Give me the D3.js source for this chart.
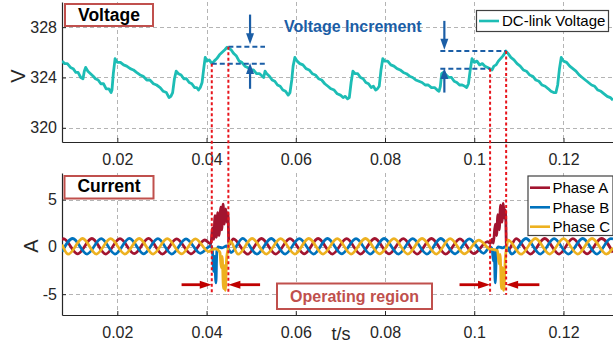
<!DOCTYPE html>
<html>
<head>
<meta charset="utf-8">
<script src="https://cdn.jsdelivr.net/npm/d3@7"></script>
<style>
  html, body { margin: 0; padding: 0; background: #fff; }
  svg { display: block; font-family: Arial, "Liberation Sans", Helvetica, sans-serif; }
</style>
</head>
<body>
<div id="chart"></div>
<script>
// DC-link voltage (t in s, V)
const voltage = [
  [0.0076,325.3],[0.0082,325.1],[0.0088,325.1],[0.0095,324.8],[0.0101,324.7],[0.0107,324.4],[0.0112,324.4],
  [0.0118,324.0],[0.0123,323.9],[0.0126,324.5],[0.0129,324.8],[0.0134,324.5],[0.0140,324.3],[0.0146,324.1],
  [0.0151,323.9],[0.0157,323.8],[0.0163,323.5],[0.0169,323.5],[0.0175,323.1],[0.0181,323.1],[0.0186,322.8],
  [0.0188,323.0],[0.0191,324.3],[0.0195,325.5],[0.0200,325.2],[0.0207,325.2],[0.0214,325.0],[0.0221,324.9],
  [0.0229,324.7],[0.0236,324.6],[0.0243,324.4],[0.0251,324.2],[0.0258,324.1],[0.0266,323.8],[0.0273,323.8],
  [0.0281,323.5],[0.0288,323.4],[0.0296,323.2],[0.0303,322.9],[0.0310,322.8],[0.0316,322.4],[0.0320,322.5],
  [0.0324,322.8],[0.0328,323.9],[0.0332,324.5],[0.0337,324.3],[0.0343,324.2],[0.0349,323.9],[0.0355,323.9],
  [0.0361,323.6],[0.0367,323.5],[0.0373,323.2],[0.0378,323.2],[0.0382,323.0],[0.0386,323.2],[0.0390,323.6],
  [0.0394,324.8],[0.0397,325.6],[0.0401,325.3],[0.0406,325.4],[0.0412,325.1],[0.0417,325.3],[0.0423,325.5],
  [0.0429,325.8],[0.0435,326.0],[0.0441,326.2],[0.0446,326.4],[0.0450,326.3],[0.0455,326.2],[0.0461,325.9],
  [0.0467,325.7],[0.0473,325.3],[0.0479,325.2],[0.0486,324.9],[0.0492,324.8],[0.0499,324.6],[0.0505,324.6],
  [0.0512,324.3],[0.0519,324.3],[0.0525,324.1],[0.0528,324.0],[0.0531,324.5],[0.0535,324.3],[0.0541,324.1],
  [0.0547,323.8],[0.0553,323.7],[0.0559,323.4],[0.0565,323.3],[0.0571,323.0],[0.0577,322.9],[0.0583,322.6],
  [0.0587,322.8],[0.0591,323.8],[0.0594,324.9],[0.0598,325.6],[0.0603,325.3],[0.0609,325.1],[0.0616,325.0],
  [0.0623,324.7],[0.0630,324.6],[0.0637,324.3],[0.0644,324.2],[0.0651,323.9],[0.0658,323.8],[0.0665,323.5],
  [0.0672,323.3],[0.0679,323.1],[0.0686,323.0],[0.0693,322.7],[0.0700,322.6],[0.0706,322.4],[0.0711,322.5],
  [0.0716,322.3],[0.0720,322.4],[0.0724,323.6],[0.0728,324.5],[0.0733,324.3],[0.0739,324.3],[0.0745,324.0],
  [0.0751,323.9],[0.0757,323.6],[0.0763,323.5],[0.0769,323.2],[0.0774,323.3],[0.0779,323.0],[0.0783,323.1],
  [0.0787,323.3],[0.0791,324.6],[0.0795,325.5],[0.0799,325.3],[0.0806,325.3],[0.0813,325.0],[0.0820,324.9],
  [0.0827,324.7],[0.0834,324.6],[0.0841,324.4],[0.0848,324.3],[0.0855,324.1],[0.0862,324.0],[0.0869,323.8],
  [0.0876,323.7],[0.0883,323.6],[0.0890,323.4],[0.0897,323.4],[0.0904,323.2],[0.0911,323.2],[0.0917,323.0],
  [0.0921,322.9],[0.0924,323.3],[0.0927,324.3],[0.0931,324.4],[0.0937,324.2],[0.0943,324.0],[0.0949,324.0],
  [0.0955,323.7],[0.0961,323.6],[0.0967,323.4],[0.0973,323.4],[0.0979,323.3],[0.0983,323.2],[0.0987,323.5],
  [0.0991,324.6],[0.0995,325.5],[0.1000,325.2],[0.1006,325.3],[0.1012,325.0],[0.1018,325.1],[0.1024,324.9],
  [0.1030,324.8],[0.1035,324.7],[0.1040,324.6],[0.1044,324.9],[0.1049,325.0],[0.1054,325.3],[0.1059,325.5],
  [0.1064,325.7],[0.1068,325.9],[0.1071,326.1],[0.1076,325.9],[0.1082,325.6],[0.1089,325.4],[0.1096,325.1],
  [0.1103,324.9],[0.1110,324.6],[0.1117,324.5],[0.1124,324.2],[0.1131,324.1],[0.1138,323.8],[0.1145,323.7],
  [0.1152,323.4],[0.1159,323.3],[0.1166,323.1],[0.1172,322.9],[0.1178,322.8],[0.1183,322.8],[0.1187,323.4],
  [0.1191,324.7],[0.1195,325.6],[0.1200,325.3],[0.1207,325.2],[0.1214,324.9],[0.1221,324.7],[0.1228,324.5],
  [0.1235,324.2],[0.1242,324.0],[0.1249,323.8],[0.1256,323.6],[0.1263,323.4],[0.1270,323.3],[0.1277,323.0],
  [0.1284,322.9],[0.1291,322.7],[0.1298,322.5],[0.1305,322.4],[0.1311,322.2]
];

// phase currents (t in s, A)
const phaseA = [
  [0.0076,0.7],[0.0079,0.86],[0.0111,-0.74],[0.0143,0.88],[0.0174,-0.76],[0.0206,0.86],[0.0238,-0.72],
  [0.0270,0.9],[0.0301,-0.76],[0.0333,0.84],[0.0365,-0.74],[0.0396,0.72],[0.0410,0.3],
  [0.0413,2.0],[0.0416,0.8],[0.0419,3.3],[0.0422,1.0],[0.0425,3.6],[0.0428,1.2],[0.0432,4.2],[0.0434,1.8],
  [0.0437,4.5],[0.0440,2.4],[0.0443,4.0],[0.0446,2.6],[0.0448,3.6],[0.0450,0.2],
  [0.0460,0.84],[0.0492,-0.78],[0.0523,0.88],[0.0555,-0.76],[0.0587,0.86],[0.0619,-0.74],[0.0650,0.88],
  [0.0682,-0.76],[0.0714,0.86],[0.0745,-0.76],[0.0777,0.88],[0.0809,-0.74],[0.0841,0.86],[0.0872,-0.76],
  [0.0904,0.88],[0.0936,-0.76],[0.0968,0.84],[0.0999,-0.72],[0.1030,0.55],[0.1036,0.35],
  [0.1040,0.8],[0.1043,0.4],[0.1047,2.4],[0.1050,1.2],[0.1053,3.4],[0.1056,1.8],[0.1059,4.4],[0.1062,2.6],
  [0.1065,4.6],[0.1068,3.0],[0.1070,3.9],[0.1072,0.2],
  [0.1075,-0.4],[0.1094,0.86],[0.1126,-0.76],[0.1158,0.88],[0.1190,-0.76],[0.1221,0.86],[0.1253,-0.74],
  [0.1285,0.88],[0.1311,-0.6]
];
const phaseB = [
  [0.0076,-0.5],[0.0100,0.88],[0.0132,-0.76],[0.0164,0.86],[0.0195,-0.76],[0.0227,0.9],[0.0259,-0.74],
  [0.0291,0.86],[0.0322,-0.76],[0.0354,0.84],[0.0386,-0.68],[0.0410,0.1],
  [0.0413,-0.3],[0.0416,-2.6],[0.0418,-1.0],[0.0421,-3.8],[0.0423,-0.5],[0.0426,0.0],[0.0435,-0.1],
  [0.0445,0.1],[0.0450,-0.3],
  [0.0455,-0.6],[0.0481,0.9],[0.0513,-0.76],[0.0545,0.88],[0.0576,-0.76],[0.0608,0.86],[0.0640,-0.76],
  [0.0671,0.88],[0.0703,-0.74],[0.0735,0.86],[0.0767,-0.76],[0.0798,0.88],[0.0830,-0.76],[0.0862,0.86],
  [0.0894,-0.76],[0.0925,0.88],[0.0957,-0.74],[0.0989,0.84],[0.1021,-0.68],[0.1036,0.0],
  [0.1040,-0.2],[0.1043,-1.5],[0.1045,-0.6],[0.1047,-3.8],[0.1050,-0.3],[0.1054,0.0],[0.1064,-0.1],
  [0.1072,0.05],
  [0.1084,-0.76],[0.1116,0.88],[0.1148,-0.76],[0.1179,0.86],[0.1211,-0.76],[0.1243,0.88],[0.1275,-0.76],
  [0.1306,0.86],[0.1311,0.84]
];
const phaseC = [
  [0.0076,0.25],[0.0090,-0.78],[0.0122,0.88],[0.0153,-0.76],[0.0185,0.86],[0.0217,-0.76],[0.0249,0.88],
  [0.0280,-0.76],[0.0312,0.86],[0.0344,-0.74],[0.0375,0.84],[0.0405,-0.5],[0.0412,-0.3],
  [0.0420,-0.2],[0.0427,-0.4],[0.0430,-0.6],[0.0433,-2.2],[0.0435,-1.0],[0.0438,-4.4],[0.0440,-2.0],
  [0.0442,-4.6],[0.0445,-1.2],[0.0448,-0.3],
  [0.0453,0.6],[0.0471,-0.78],[0.0502,0.88],[0.0534,-0.76],[0.0566,0.86],[0.0598,-0.76],[0.0629,0.88],
  [0.0661,-0.76],[0.0693,0.86],[0.0724,-0.76],[0.0756,0.88],[0.0788,-0.74],[0.0820,0.86],[0.0851,-0.76],
  [0.0883,0.88],[0.0915,-0.76],[0.0946,0.86],[0.0978,-0.74],[0.1010,0.7],[0.1036,-0.25],
  [0.1045,-0.3],[0.1052,-0.4],[0.1056,-1.8],[0.1058,-0.8],[0.1061,-4.4],[0.1063,-2.2],[0.1066,-4.6],
  [0.1070,-1.0],[0.1072,-0.2],
  [0.1076,0.7],[0.1105,-0.78],[0.1137,0.88],[0.1169,-0.76],[0.1200,0.86],[0.1232,-0.76],[0.1264,0.88],
  [0.1296,-0.76],[0.1311,-0.1]
];

const xTicks = [0.02, 0.04, 0.06, 0.08, 0.1, 0.12];
const vTicks = [320, 324, 328];
const iTicks = [-5, 0, 5];
const phaseNames = ["Phase A", "Phase B", "Phase C"];

// operating regions: start / end of each event (s) and the voltage at those instants
const eventStart = [0.04117, 0.10355];
const eventEnd = [0.04489, 0.10715];
const vAtStart = [325.1, 324.7];
const vAtEnd = [326.45, 326.1];
// reach of the blue increment guides (s)
const guideFrom = [0.04117, 0.0924];
const guideTo = [0.0531, 0.0531];
// blue increment arrows: [t, from V, to V]
const incArrows = [[0.04975, 329.0, 326.65], [0.04975, 323.1, 325.15], [0.0933, 328.5, 326.2], [0.0933, 322.8, 324.75]];
// red region arrows: [from t, to t] at current level
const regionArrows = [[0.0344, 0.04117], [0.0520, 0.04489], [0.0967, 0.10355], [0.1146, 0.10715]];
const regionArrowLevel = -4.0;
const markerBottom = -5.05;

const W = 613, H = 346;
const teal = "#1dbdb5", phaseColors = ["#a2142f", "#0072bd", "#edb120"];
const axisCol = "#262626", gridCol = "#b4b4b4";

const svg = d3.select("#chart").append("svg").attr("width", W).attr("height", H).attr("viewBox", `0 0 ${W} ${H}`);

const x = d3.scaleLinear().domain([0.0076, 0.1311]).range([62, 613]);
const yV = d3.scaleLinear().domain([318.87, 330]).range([142, 2]);
const yI = d3.scaleLinear().domain([-7.2, 7.8]).range([315, 173]);

function panel(y, ticks, id) {
  const [bot, top] = y.range();
  const [l, r] = x.range();
  svg.append("clipPath").attr("id", id).append("rect").attr("x", l).attr("y", top).attr("width", r - l).attr("height", bot - top);
  const grid = svg.append("g").attr("stroke", gridCol).attr("stroke-width", 1).attr("stroke-dasharray", "4,3");
  grid.selectAll(".gx").data(xTicks).join("line")
    .attr("x1", d => Math.round(x(d)) + 0.5).attr("x2", d => Math.round(x(d)) + 0.5).attr("y1", top).attr("y2", bot);
  grid.selectAll(".gy").data(ticks).join("line")
    .attr("y1", d => Math.round(y(d)) + 0.5).attr("y2", d => Math.round(y(d)) + 0.5).attr("x1", l).attr("x2", r);

  const ax = svg.append("g").attr("transform", `translate(0,${bot})`)
    .call(d3.axisBottom(x).tickValues(xTicks).tickSizeInner(-4).tickSizeOuter(0).tickPadding(12).tickFormat(d => String(d)));
  const ay = svg.append("g").attr("transform", `translate(${l},0)`)
    .call(d3.axisLeft(y).tickValues(ticks).tickSizeInner(-4).tickSizeOuter(0).tickPadding(5).tickFormat(d => String(d)));
  [ax, ay].forEach(a => {
    a.select(".domain").attr("stroke", axisCol).attr("stroke-width", 1.2);
    a.selectAll(".tick line").attr("stroke", axisCol);
    a.selectAll(".tick text").attr("fill", axisCol).style("font-size", "16px").style("font-family", "Arial, 'Liberation Sans', sans-serif");
  });
  return svg.append("g").attr("clip-path", `url(#${id})`);
}

const gV = panel(yV, vTicks, "clipV");
const gI = panel(yI, iTicks, "clipI");

gV.append("path").datum(voltage).attr("fill", "none").attr("stroke", teal).attr("stroke-width", 2.8)
  .attr("stroke-linejoin", "round")
  .attr("d", d3.line().x(d => x(d[0])).y(d => yV(d[1])));

[phaseA, phaseB, phaseC].forEach((s, k) => {
  gI.append("path").datum(s).attr("fill", "none").attr("stroke", phaseColors[k]).attr("stroke-width", 2.8)
    .attr("stroke-linejoin", "round")
    .attr("d", d3.line().x(d => x(d[0])).y(d => yI(d[1])).curve(d3.curveMonotoneX));
});

// axis titles
svg.append("text").attr("transform", `translate(18,76) rotate(-90)`).attr("text-anchor", "middle")
  .attr("dominant-baseline", "central").style("font-size", "20px").attr("fill", axisCol).text("V");
svg.append("text").attr("transform", `translate(31,246) rotate(-90)`).attr("text-anchor", "middle")
  .attr("dominant-baseline", "central").style("font-size", "20px").attr("fill", axisCol).text("A");
svg.append("text").attr("x", 341).attr("y", 340).attr("text-anchor", "middle")
  .style("font-size", "18px").attr("fill", axisCol).text("t/s");

function arrow(g, x1, y1, x2, y2, color, w, hl, hw) {
  const a = Math.atan2(y2 - y1, x2 - x1), c = Math.cos(a), s = Math.sin(a);
  const bx = x2 - hl * c, by = y2 - hl * s;
  g.append("line").attr("x1", x1).attr("y1", y1).attr("x2", bx + c).attr("y2", by + s)
    .attr("stroke", color).attr("stroke-width", w);
  g.append("path").attr("fill", color)
    .attr("d", `M${x2},${y2}L${bx - hw / 2 * s},${by + hw / 2 * c}L${bx + hw / 2 * s},${by - hw / 2 * c}Z`);
}

// blue increment guides
const blue = "#1b5ea6";
const ann = svg.append("g");
eventStart.forEach((_, k) => {
  const lowTo = k === 0 ? guideTo[k] : eventStart[k];
  const lowFrom = k === 0 ? eventStart[k] : guideFrom[k];
  const highFrom = k === 0 ? eventEnd[k] : guideFrom[k];
  const highTo = k === 0 ? guideTo[k] : eventEnd[k];
  [[lowFrom, lowTo, vAtStart[k]], [highFrom, highTo, vAtEnd[k]]].forEach(([a, b, v]) => {
    ann.append("line").attr("x1", x(a)).attr("x2", x(b)).attr("y1", yV(v)).attr("y2", yV(v))
      .attr("stroke", blue).attr("stroke-width", 2).attr("stroke-dasharray", "5,3");
  });
});
incArrows.forEach(([t, v0, v1]) => arrow(ann, x(t), yV(v0), x(t), yV(v1), blue, 2.2, 11, 8));

svg.append("text").attr("x", 284).attr("y", 31.5).style("font-size", "16px").style("font-weight", "bold")
  .attr("fill", blue).text("Voltage Increment");

// red dotted markers spanning both panels
eventStart.forEach((t, k) => {
  [[t, vAtStart[k]], [eventEnd[k], vAtEnd[k]]].forEach(([tt, v]) => {
    ann.append("line").attr("x1", x(tt)).attr("x2", x(tt)).attr("y1", yV(v)).attr("y2", yI(markerBottom))
      .attr("stroke", "#e8141b").attr("stroke-width", 2).attr("stroke-dasharray", "3,2.5");
  });
});
regionArrows.forEach(([a, b]) => arrow(ann, x(a), yI(regionArrowLevel), x(b), yI(regionArrowLevel), "#c00000", 2.8, 12, 8));

// labelled boxes
function tagBox(x0, y0, w, h, label, size, color, base) {
  svg.append("rect").attr("x", x0).attr("y", y0).attr("width", w).attr("height", h)
    .attr("fill", "#fff").attr("stroke", "#c0504d").attr("stroke-width", 2);
  svg.append("text").attr("x", x0 + w / 2).attr("y", base).attr("text-anchor", "middle")
    .style("font-size", size + "px").style("font-weight", "bold").attr("fill", color).text(label);
}
tagBox(65, 4, 88, 22, "Voltage", 17.5, "#000", 20.8);
tagBox(64.5, 176, 89, 22.5, "Current", 17.5, "#000", 192);
tagBox(277, 283.5, 155, 25.5, "Operating region", 16, "#c0504d", 301.5);

// legends
const lg1 = svg.append("g");
lg1.append("rect").attr("x", 476.5).attr("y", 10.5).attr("width", 132).attr("height", 21)
  .attr("fill", "#fff").attr("stroke", "#404040").attr("stroke-width", 1.2);
lg1.append("line").attr("x1", 479).attr("x2", 499).attr("y1", 21).attr("y2", 21).attr("stroke", teal).attr("stroke-width", 2.6);
lg1.append("text").attr("x", 502).attr("y", 26.2).style("font-size", "15px").attr("fill", "#000").text("DC-link Voltage");

const lg2 = svg.append("g");
lg2.append("rect").attr("x", 528).attr("y", 176).attr("width", 85).attr("height", 59.5)
  .attr("fill", "#fff").attr("stroke", "#404040").attr("stroke-width", 1.2);
const rowY = [187.7, 207.3, 226.7];
phaseNames.forEach((n, k) => {
  lg2.append("line").attr("x1", 530).attr("x2", 550).attr("y1", rowY[k]).attr("y2", rowY[k])
    .attr("stroke", phaseColors[k]).attr("stroke-width", 2.6);
  lg2.append("text").attr("x", 552.5).attr("y", rowY[k] + 5.3).style("font-size", "15px").attr("fill", "#000").text(n);
});
</script>
</body>
</html>
